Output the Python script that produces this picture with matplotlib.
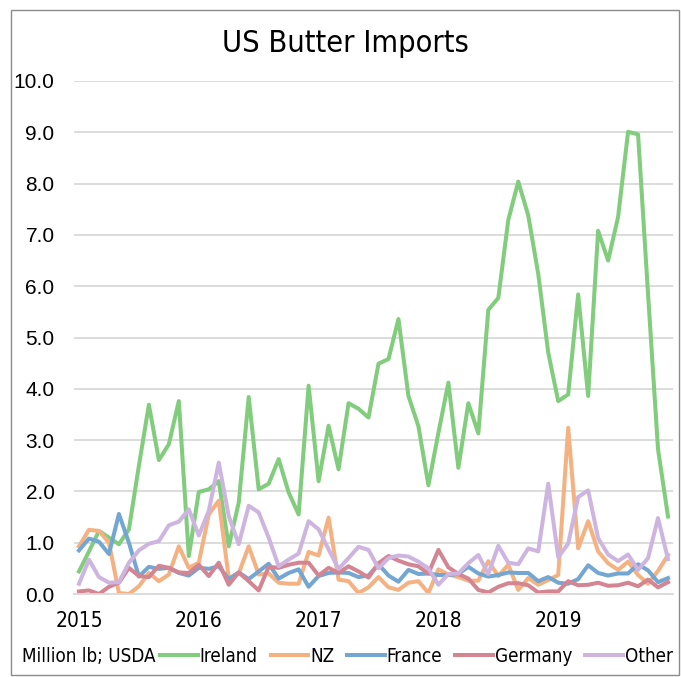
import matplotlib
matplotlib.use('Agg')
import matplotlib.pyplot as plt
from matplotlib import font_manager
from matplotlib.patches import Rectangle
import numpy as np

# monthly imports, Jan 2015 - Dec 2019 (million lb)
years = ['2015', '2016', '2017', '2018', '2019']
ireland = [0.44, 0.83, 1.23, 1.10, 0.97, 1.26, 2.5, 3.69, 2.61, 2.92,
           3.76, 0.74, 1.99, 2.04, 2.2, 0.93, 1.78, 3.84, 2.04, 2.15,
           2.63, 1.98, 1.55, 4.06, 2.2, 3.28, 2.43, 3.72, 3.61, 3.44,
           4.49, 4.58, 5.36, 3.86, 3.27, 2.12, 3.14, 4.12, 2.46, 3.72,
           3.13, 5.54, 5.77, 7.29, 8.04, 7.38, 6.24, 4.71, 3.76, 3.89,
           5.84, 3.86, 7.08, 6.5, 7.35, 9.01, 8.96, 5.85, 2.82, 1.51]
nz = [0.93, 1.25, 1.23, 1.0, 0.02, 0.0, 0.15, 0.41, 0.25, 0.38,
      0.93, 0.51, 0.61, 1.55, 1.82, 0.31, 0.4, 0.93, 0.38, 0.4,
      0.22, 0.2, 0.2, 0.82, 0.75, 1.49, 0.28, 0.25, 0.02, 0.13,
      0.33, 0.13, 0.08, 0.22, 0.25, 0.02, 0.48, 0.38, 0.33, 0.26,
      0.26, 0.64, 0.35, 0.57, 0.08, 0.31, 0.18, 0.27, 0.37, 3.24,
      0.89, 1.42, 0.83, 0.6, 0.47, 0.63, 0.37, 0.2, 0.45, 0.76]
france = [0.85, 1.08, 1.02, 0.78, 1.56, 1.0, 0.34, 0.53, 0.49, 0.51,
          0.41, 0.36, 0.51, 0.49, 0.54, 0.29, 0.42, 0.29, 0.44, 0.59,
          0.3, 0.41, 0.48, 0.14, 0.35, 0.41, 0.42, 0.41, 0.33, 0.36,
          0.58, 0.36, 0.24, 0.47, 0.39, 0.4, 0.37, 0.37, 0.39, 0.53,
          0.4, 0.34, 0.37, 0.42, 0.41, 0.41, 0.25, 0.33, 0.22, 0.2,
          0.29, 0.56, 0.41, 0.36, 0.4, 0.4, 0.58, 0.46, 0.23, 0.31]
germany = [0.05, 0.07, 0.0, 0.14, 0.22, 0.51, 0.35, 0.33, 0.55, 0.51,
           0.42, 0.41, 0.57, 0.35, 0.61, 0.18, 0.42, 0.25, 0.07, 0.53,
           0.51, 0.57, 0.61, 0.61, 0.36, 0.51, 0.41, 0.54, 0.44, 0.32,
           0.6, 0.74, 0.65, 0.58, 0.54, 0.4, 0.86, 0.52, 0.39, 0.3,
           0.08, 0.03, 0.14, 0.21, 0.21, 0.17, 0.03, 0.05, 0.05, 0.25,
           0.17, 0.18, 0.22, 0.16, 0.17, 0.22, 0.15, 0.28, 0.13, 0.23]
other = [0.2, 0.67, 0.33, 0.22, 0.23, 0.61, 0.85, 0.98, 1.03, 1.34,
         1.41, 1.65, 1.14, 1.62, 2.56, 1.52, 0.97, 1.72, 1.59, 1.1,
         0.54, 0.67, 0.79, 1.42, 1.26, 0.87, 0.49, 0.7, 0.92, 0.86,
         0.5, 0.7, 0.75, 0.73, 0.63, 0.5, 0.18, 0.39, 0.4, 0.6,
         0.76, 0.39, 0.94, 0.61, 0.58, 0.89, 0.83, 2.15, 0.72, 0.98,
         1.89, 2.02, 1.09, 0.77, 0.64, 0.77, 0.47, 0.7, 1.48, 0.68]

series = [('Ireland', ireland, '#82CC7E'),
          ('NZ', nz, '#F4B283'),
          ('France', france, '#74A6D2'),
          ('Germany', germany, '#D48592'),
          ('Other', other, '#CDB5E0')]

# narrow font for title / axis / legend if one is around
fonts = font_manager.fontManager.ttflist
if any(f.name == 'Liberation Sans Narrow' for f in fonts):
    narrow = dict(family='Liberation Sans Narrow')
elif any(f.name == 'DejaVu Sans' and f.stretch == 'condensed' for f in fonts):
    narrow = dict(family='DejaVu Sans', stretch='condensed')
else:
    narrow = dict(family='DejaVu Sans')

fig = plt.figure(figsize=(6.81, 6.77), dpi=100)
fig.patches.append(Rectangle((10.5 / 681, 2 / 677), 668 / 681, 665 / 677,
                             transform=fig.transFigure, fill=False,
                             edgecolor='#8C8C8C', linewidth=1.0))

ax = fig.add_axes([74 / 681, 1 - 594 / 677, 599 / 681, 513 / 677])
x = np.arange(len(ireland))
for name, vals, col in series:
    ax.plot(x, vals, color=col, lw=2.9, label=name, solid_joinstyle='round')

ax.set_xlim(-0.5, len(ireland) - 0.5)
ax.set_ylim(0, 10)
ax.set_yticks(np.arange(0, 10.1, 1))
ax.set_yticklabels(['%.1f' % v for v in np.arange(0, 10.1, 1)],
                   family='Liberation Sans', fontsize=15)
ax.set_xticks(np.arange(0, 60, 12))
ax.set_xticklabels(years, fontsize=15, **narrow)
ax.tick_params(axis='y', length=0, pad=14)
ax.tick_params(axis='x', length=0, pad=12)
ax.grid(axis='y', color='#D9D9D9', lw=1.3)
ax.set_axisbelow(True)
for s in ['top', 'right', 'left']:
    ax.spines[s].set_visible(False)
ax.spines['bottom'].set_color('#D9D9D9')
ax.spines['bottom'].set_linewidth(1.3)

fig.text(0.507, 0.936, 'US Butter Imports', ha='center', va='center',
         fontsize=22, **narrow)
fig.text(22 / 681, 0.031, 'Million lb; USDA', ha='left', va='center',
         fontsize=13.5, **narrow)
fig.legend(loc='center left', bbox_to_anchor=(160 / 681, 0.031), ncol=5,
           frameon=False, handlelength=2.0, handletextpad=0.1,
           columnspacing=0.7, borderpad=0, borderaxespad=0,
           prop=dict(size=13.5, **narrow))

fig.savefig('out.png', dpi=100)
